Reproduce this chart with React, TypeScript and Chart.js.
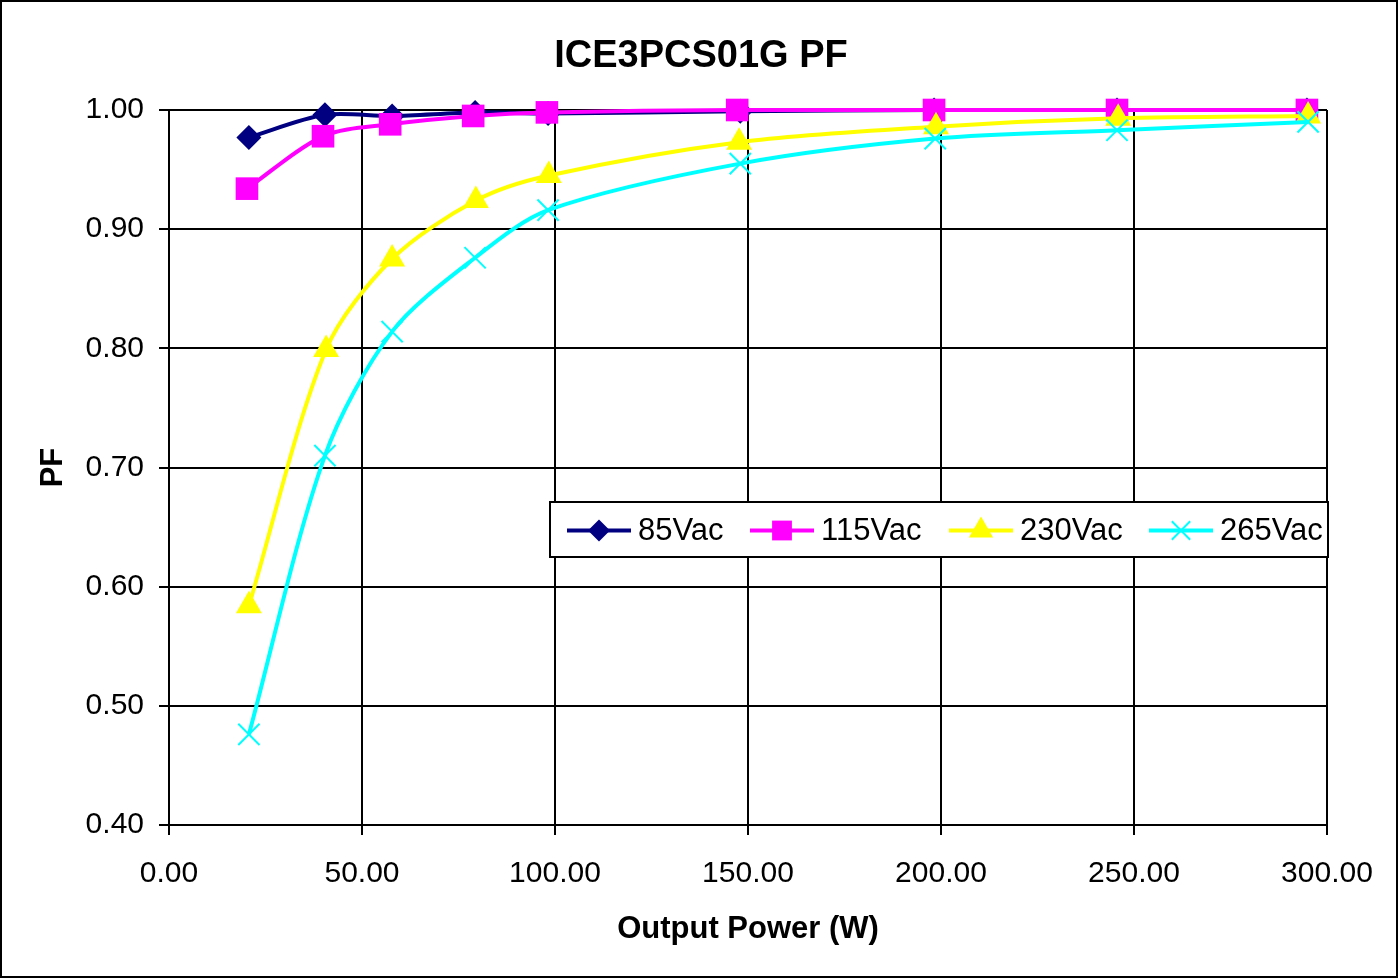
import React, { useEffect, useRef } from "react";
import { Chart, registerables } from "chart.js";

Chart.register(...registerables);

const power85 = [20.7, 40.4, 57.8, 79.3, 98.2, 148.0, 198.2, 245.6, 294.8];
const pf85 = [0.977, 0.996, 0.995, 0.998, 0.997, 0.999, 1.0, 1.0, 1.0];
const power115 = [20.2, 39.9, 57.3, 78.8, 97.9, 147.2, 198.2, 245.6, 294.8];
const pf115 = [0.934, 0.978, 0.988, 0.995, 0.998, 1.0, 1.0, 1.0, 1.0];
const power230 = [20.7, 40.7, 57.8, 79.5, 98.4, 147.7, 198.7, 245.9, 295.1];
const pf230 = [0.584, 0.799, 0.875, 0.924, 0.945, 0.973, 0.986, 0.993, 0.995];
const power265 = [20.7, 40.4, 57.8, 79.3, 98.2, 148.0, 198.5, 245.6, 295.1];
const pf265 = [0.476, 0.71, 0.814, 0.876, 0.916, 0.955, 0.976, 0.983, 0.99];

const seriesLabels = ["85Vac", "115Vac", "230Vac", "265Vac"];
const seriesColors = ["#000080", "#FF00FF", "#FFFF00", "#00FFFF"];
const seriesMarkers = ["rectRot", "rect", "triangle", "crossRot"];
const markerRadius = [12.5, 16, 15, 15];
const chartTitle = "ICE3PCS01G PF";

const FONT = "'Liberation Sans', Arial, sans-serif";

function drawMarker(ctx: CanvasRenderingContext2D, style: string, r: number, x: number, y: number) {
  ctx.beginPath();
  if (style === "rectRot") {
    ctx.moveTo(x, y - r);
    ctx.lineTo(x + r, y);
    ctx.lineTo(x, y + r);
    ctx.lineTo(x - r, y);
    ctx.closePath();
    ctx.fill();
  } else if (style === "rect") {
    const s = r * Math.SQRT1_2;
    ctx.rect(x - s, y - s, 2 * s, 2 * s);
    ctx.fill();
  } else if (style === "triangle") {
    ctx.moveTo(x, y - r);
    ctx.lineTo(x + r * Math.sin((2 * Math.PI) / 3), y - r * Math.cos((2 * Math.PI) / 3));
    ctx.lineTo(x + r * Math.sin((4 * Math.PI) / 3), y - r * Math.cos((4 * Math.PI) / 3));
    ctx.closePath();
    ctx.fill();
  } else {
    const o = r * Math.SQRT1_2;
    ctx.moveTo(x - o, y - o);
    ctx.lineTo(x + o, y + o);
    ctx.moveTo(x + o, y - o);
    ctx.lineTo(x - o, y + o);
    ctx.stroke();
  }
}

const decorPlugin = {
  id: "decor",
  afterDraw(chart: any) {
    const ctx = chart.ctx;
    ctx.save();
    ctx.strokeStyle = "#000";
    ctx.lineWidth = 2;
    ctx.strokeRect(1, 1, chart.width - 2, chart.height - 2);
    ctx.fillStyle = "#000";
    ctx.font = `bold 38px ${FONT}`;
    ctx.textAlign = "center";
    ctx.textBaseline = "middle";
    ctx.fillText(chartTitle, 701, 57);
    const bx = 550, by = 502, bw = 778, bh = 55;
    ctx.fillStyle = "#fff";
    ctx.fillRect(bx, by, bw, bh);
    ctx.strokeRect(bx, by, bw, bh);
    const starts = [567, 750, 949, 1149];
    const cy = by + bh / 2 + 1;
    ctx.font = `31px ${FONT}`;
    ctx.textBaseline = "middle";
    ctx.textAlign = "left";
    seriesLabels.forEach((lab, i) => {
      const x0 = starts[i];
      const col = seriesColors[i];
      ctx.strokeStyle = col;
      ctx.lineWidth = 4;
      ctx.beginPath();
      ctx.moveTo(x0, cy);
      ctx.lineTo(x0 + 64, cy);
      ctx.stroke();
      ctx.fillStyle = col;
      ctx.lineWidth = 2;
      const r = i === 0 ? 11 : i === 1 ? 14 : i === 2 ? 14 : 13;
      drawMarker(ctx, seriesMarkers[i], r, x0 + 32, cy);
      ctx.fillStyle = "#000";
      ctx.fillText(lab, x0 + 71, cy + 1);
    });
    ctx.restore();
  },
};

export default function App() {
  const ref = useRef<HTMLCanvasElement | null>(null);
  useEffect(() => {
    document.body.style.margin = "0";
    const xs = [power85, power115, power230, power265];
    const ys = [pf85, pf115, pf230, pf265];
    const datasets = seriesLabels.map((lab, i) => ({
      label: lab,
      data: xs[i].map((x, j) => ({ x, y: ys[i][j] })),
      borderColor: seriesColors[i],
      backgroundColor: seriesColors[i],
      borderWidth: 4,
      pointStyle: seriesMarkers[i],
      pointRadius: markerRadius[i],
      pointBorderWidth: i === 3 ? 2 : 0,
      pointBorderColor: seriesColors[i],
      pointBackgroundColor: seriesColors[i],
      tension: 0.3,
      clip: false as any,
      order: 4 - i,
      showLine: true,
    }));
    const chart = new Chart(ref.current!, {
      type: "scatter",
      data: { datasets },
      plugins: [decorPlugin],
      options: {
        animation: false,
        responsive: false,
        events: [],
        layout: { padding: { left: 0, right: 71, top: 110, bottom: 0 } },
        plugins: {
          legend: { display: false },
          tooltip: { enabled: false },
          title: { display: false },
        },
        scales: {
          x: {
            type: "linear",
            min: 0,
            max: 300,
            afterFit: (s: any) => {
              s.height = 153;
            },
            ticks: {
              stepSize: 50,
              color: "#000",
              padding: 21,
              font: { family: FONT, size: 30 },
              callback: (v: any) => Number(v).toFixed(2),
              maxRotation: 0,
            },
            grid: { color: "#000", lineWidth: 2, tickLength: 10, tickColor: "#000" },
            border: { color: "#000", width: 2 },
            title: {
              display: true,
              text: "Output Power (W)",
              color: "#000",
              font: { family: FONT, size: 31, weight: "bold" },
              padding: { top: 0, bottom: 30 },
            },
          },
          y: {
            type: "linear",
            min: 0.4,
            max: 1.0,
            afterFit: (s: any) => {
              s.width = 169;
            },
            ticks: {
              stepSize: 0.1,
              color: "#000",
              padding: 15,
              font: { family: FONT, size: 30 },
              callback: (v: any) => Number(v).toFixed(2),
            },
            grid: { color: "#000", lineWidth: 2, tickLength: 10, tickColor: "#000" },
            border: { color: "#000", width: 2 },
            title: {
              display: true,
              text: "PF",
              color: "#000",
              font: { family: FONT, size: 31, weight: "bold" },
              padding: { top: 35, bottom: 0 },
            },
          },
        },
      } as any,
    });
    return () => chart.destroy();
  }, []);
  return (
    <div style={{ position: "absolute", left: 0, top: 0, width: 1398, height: 978, background: "#fff" }}>
      <canvas ref={ref} width={1398} height={978} style={{ width: 1398, height: 978, display: "block" }} />
    </div>
  );
}
